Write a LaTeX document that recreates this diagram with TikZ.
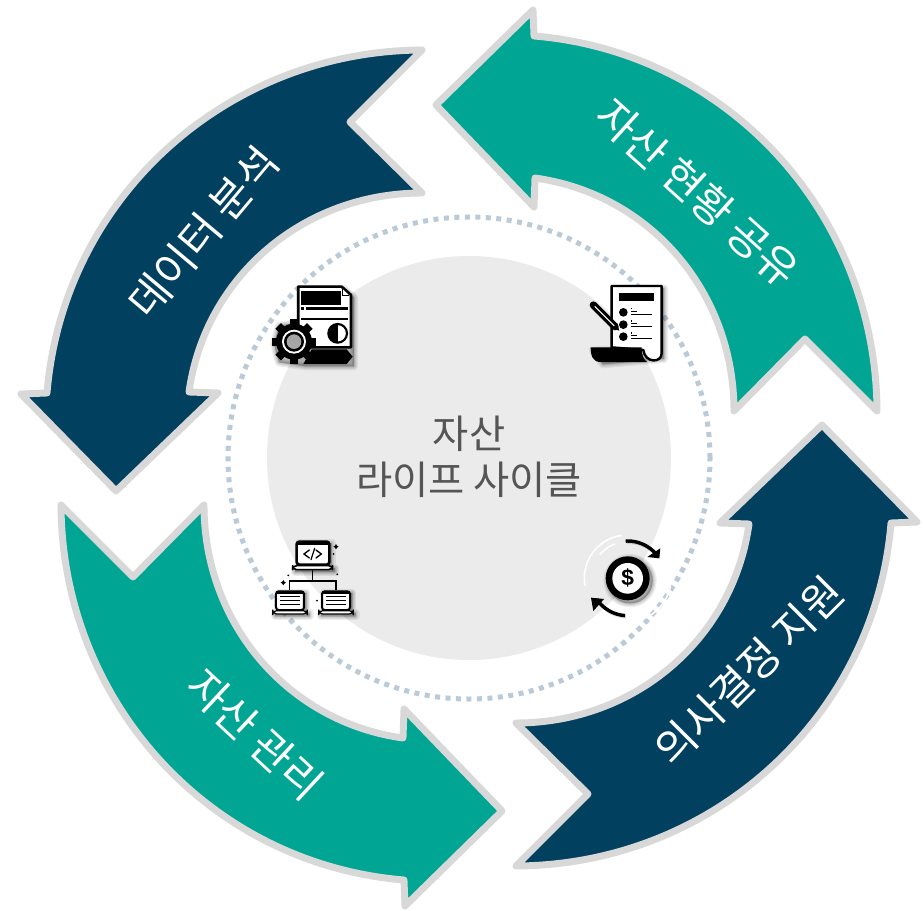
\documentclass[tikz,border=0pt]{standalone}
\usepackage{fontspec}
\setmainfont{Noto Sans CJK KR}
\newfontfamily\dollarfont{Liberation Sans}
\definecolor{tealarrow}{HTML}{00A693}
\definecolor{navyarrow}{HTML}{02405F}
\definecolor{arrowedge}{HTML}{D8D8D8}
\definecolor{hubgray}{HTML}{EBEBEB}
\definecolor{ringblue}{HTML}{BACAD6}
\definecolor{hubtext}{HTML}{555555}
\tikzset{
  cyclearrow/.style={draw=arrowedge,line width=5.2pt,line join=round},
  arrowtext/.style={text=white,font=\fontsize{32}{36}\selectfont,inner sep=0pt},
  paper/.style={fill=white,draw=black,line join=round},
  iconline/.style={draw=black,line cap=round},
}
% one 90-degree-symmetric arrow shape, relative to the hub centre
\newcommand\cyclearrowpath[2]{%
  \draw[cyclearrow,fill=#2,rotate=#1]
    (-33,353) -- (64,448) -- (65,422)
    .. controls (259,406) and (407,244) .. (408,47)
    -- (336,119) -- (265,47)
    .. controls (265,166) and (181,264) .. (66,280)
    -- (65,251) -- cycle;}
% soft shadow: stacked translucent silhouettes
\newcommand\softshadow[1]{%
  \foreach \w in {24,16,10,4}{%
    \path[fill=black,draw=black,opacity=0.07,line width=\w*0.25pt,line join=round,shift={(7,7)}] #1;}}
\newcommand\zarc[6][]{% options, cx cy r a1 a2
  \draw[#1] plot[domain=#5:#6,samples=24] ({#2+#4*cos(\x)},{#3+#4*sin(\x)});}
\begin{document}
\begin{tikzpicture}[x=0.75pt,y=0.75pt]
\useasboundingbox[fill=white] (-469,-452) rectangle (454,458);

% hub
\fill[hubgray] (0,0) circle (202);
\draw[ringblue,line width=3.75pt,dash pattern=on 3.75pt off 4.12pt] (0,0) circle (241);

% arrows
\cyclearrowpath{0}{tealarrow}
\cyclearrowpath{-90}{navyarrow}
\cyclearrowpath{180}{tealarrow}
\cyclearrowpath{90}{navyarrow}

% arrow labels
\node[arrowtext,rotate=-42] (labelshare) at (229,265) {자산 현황 공유};
\node[arrowtext,rotate=50] (labelanalysis) at (-266,226) {데이터 분석};
\node[arrowtext,rotate=45] (labeldecision) at (280,-213) {의사결정 지원};
\node[arrowtext,rotate=-43] (labelmanage) at (-214,-277) {자산 관리};

% hub label
\node[text=hubtext,align=center,inner sep=0pt,font=\fontsize{29.5}{34.5}\selectfont] (hublabel) at (0,1) {자산\\라이프 사이클};

% ---------- icon: document with gear ----------
\begin{scope}[shift={(-229,198)}]
\begin{scope}[x=0.25pt,y=-0.25pt]
\softshadow{(175,80) -- (305,80) -- (335,105) -- (335,265) -- (335,312) -- (190,312) -- (110,300) -- (95,245) -- (110,190) -- (175,180) -- cycle}
\draw[paper,line width=2pt] (175,80) -- (305,80) -- (333,105) -- (333,262) -- (175,262) -- cycle;
\fill[white] (307,86) -- (307,106) -- (327,106) -- cycle;
\draw[black,line width=1pt] (307,86) -- (307,106) -- (327,106);
\fill[black] (183,94) rectangle (304,135);
\fill[black] (197,142) rectangle (325,149);
\fill[black] (183,142) rectangle (191,149);
\fill[black] (183,173) rectangle (325,181);
\fill[black] (293,192) .. controls (256,192) and (256,248) .. (293,248) -- cycle;
\draw[black,line width=1.6pt] (293,220) circle (28);
\fill[black] (215,268) -- (320,268) -- (338,290) -- (320,312) -- (190,312) -- cycle;
\foreach \a in {0,45,...,315}{
  \fill[black,rotate around={\a:(162,245)}] (150,178) rectangle (174,200);
}
\fill[black] (162,245) circle (54);
\fill[white] (162,245) circle (36);
\fill[black] (162,245) circle (30);
\fill[gray!70] (162,245) circle (22);
\end{scope}
\end{scope}

% ---------- icon: checklist with pen ----------
\begin{scope}[shift={(91,198)}]
\begin{scope}[x=0.25pt,y=-0.25pt]
\softshadow{(155,78) -- (305,78) -- (305,290) -- (122,306) -- (92,265) -- (155,262) -- cycle}
\draw[paper,line width=1.8pt] (155,262) -- (155,78) -- (305,78) -- (305,280) .. controls (305,310) and (255,310) .. (250,270) -- cycle;
\fill[black] (178,98) rectangle (282,122);
\foreach \yy in {157,194,230}{
  \fill[black] (190,\yy) circle (13);
  \fill[black] (212,\yy-13) rectangle (217,\yy-9);
  \fill[black] (212,\yy-5) rectangle (232,\yy-1);
  \fill[black] (212,\yy+4) rectangle (276,\yy+8);
}
\fill[black] (92,262) -- (245,262) .. controls (245,285) and (250,300) .. (262,306) -- (122,306) .. controls (100,306) and (92,290) .. (92,262) -- cycle;
\draw[black,line width=5.5pt,line cap=round] (100,135) -- (165,200);
\draw[white,line width=0.8pt] (104,139) -- (165,200);
\fill[black] (155,205) -- (172,190) -- (178,212) -- cycle;
\end{scope}
\end{scope}

% ---------- icon: three networked laptops ----------
\begin{scope}[shift={(-219,-67)}]
\begin{scope}[x=0.25pt,y=-0.25pt]
\softshadow{(140,48) rectangle (238,119) (128,122) rectangle (248,134) (78,197) rectangle (162,255) (68,257) rectangle (172,267) (216,197) rectangle (300,255) (206,257) rectangle (310,267)}
\draw[paper,line width=2pt,rounded corners=2pt] (140,50) rectangle (238,119);
\fill[black] (140,48) rectangle (238,60);
\draw[paper,line width=1.2pt,rounded corners=3pt] (128,122) rectangle (248,134);
\draw[iconline,line width=1pt] (188,135) -- (188,165);
\draw[black,line width=1pt] (118,195) -- (118,168) -- (258,168) -- (258,195);
\draw[iconline,line width=1pt] (178,75) -- (162,87) -- (178,99);
\draw[iconline,line width=1pt] (198,75) -- (214,87) -- (198,99);
\draw[iconline,line width=0.9pt] (194,70) -- (183,104);
\foreach \dx in {0,138}{
  \begin{scope}[xshift=\dx*0.25pt]
  \draw[paper,line width=1.5pt,rounded corners=2pt] (78,199) rectangle (162,255);
  \fill[black] (78,197) rectangle (162,207);
  \foreach \yy in {215,226,237}{\fill[black] (90,\yy-1.5) rectangle (150,\yy+1.5);}
  \draw[paper,line width=0.9pt,rounded corners=3pt] (68,257) rectangle (172,267);
  \end{scope}
}
\fill[black] (258,57) -- (261,62) -- (266,65) -- (261,68) -- (258,73) -- (255,68) -- (250,65) -- (255,62) -- cycle;
\fill[black] (100,165) -- (103,170) -- (108,173) -- (103,176) -- (100,181) -- (97,176) -- (92,173) -- (97,170) -- cycle;
\fill[black] (251,87) circle (3);
\fill[black] (115,151) circle (3);
\fill[black] (262,148) circle (3);
\fill[black] (201,227) circle (3);
\end{scope}
\end{scope}

% ---------- icon: dollar coin with cycle arrows ----------
\begin{scope}[shift={(91,-67)}]
\begin{scope}[x=0.25pt,y=-0.25pt]
\softshadow{(203,160) circle (68)}
\zarc[black,opacity=0.12,line width=2.6pt,shift={(3,4)}]{203}{160}{112}{-93}{-36}
\zarc[black,opacity=0.12,line width=2.6pt,shift={(3,4)}]{203}{160}{112}{94}{146}
\zarc[white,line width=1.2pt]{203}{160}{130}{170}{262}
\zarc[white,line width=1.2pt]{203}{160}{130}{-10}{82}
\zarc[white,line width=1.2pt]{203}{160}{110}{-140}{-110}
\zarc[white,line width=1.2pt]{203}{160}{110}{40}{80}
\zarc[black,line width=2.6pt]{203}{160}{112}{-93}{-36}
\fill[black] (298,100) -- (301,70) -- (262,96) -- cycle;
\zarc[black,line width=2.6pt]{203}{160}{112}{94}{146}
\fill[black] (93,218) -- (132,222) -- (100,258) -- cycle;
\fill[black] (203,160) circle (66);
\fill[white] (203,160) circle (46);
\node[inner sep=0pt,text=black,font=\dollarfont\bfseries\fontsize{17}{17}\selectfont] (dollarsign) at (203,160) {\$};
\end{scope}
\end{scope}
\end{tikzpicture}
\end{document}
